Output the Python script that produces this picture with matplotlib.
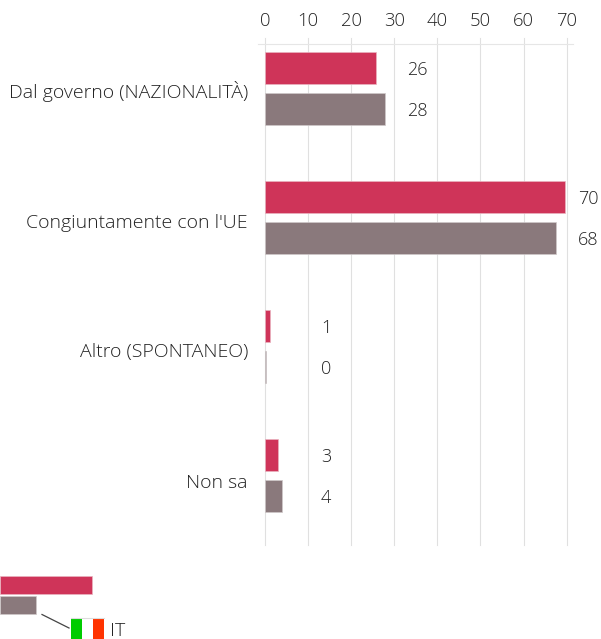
import matplotlib
matplotlib.use("Agg")
import matplotlib.pyplot as plt
from matplotlib.patches import Rectangle

categories = ["Dal governo (NAZIONALITÀ)", "Congiuntamente con l'UE", "Altro (SPONTANEO)", "Non sa"]
series_a = [25.8, 69.5, 1.1, 3.0]
series_b = [27.8, 67.5, 0.2, 4.0]
labels_a = [26, 70, 1, 3]
labels_b = [28, 68, 0, 4]
ticks = [0, 10, 20, 30, 40, 50, 60, 70]
legend_a = [92]
legend_b = [36]
legend_label = "IT"

RED, GREY = "#cf3459", "#8a797c"
W, H = 601, 639
plt.rcParams["font.family"] = ["Open Sans", "DejaVu Sans"]
TXT = "#222222"
FS = 14.0
WT = "light"

fig = plt.figure(figsize=(W / 100, H / 100), dpi=100)
ov = fig.add_axes([0, 0, 1, 1], zorder=3)
ov.set_xlim(0, W); ov.set_ylim(H, 0); ov.axis("off")

ax = fig.add_axes([265.0 / W, 1 - 545 / H, (566.7 - 265.0) / W, (545 - 44) / H])
ax.set_xlim(0, 70)
ax.set_ylim(3.539, -0.345)
ax.patch.set_alpha(0)
for s in ax.spines.values():
    s.set_visible(False)
ax.set_yticks([])
ax.xaxis.tick_top()
ax.set_xticks(ticks)
ax.set_xticklabels([str(t) for t in ticks], fontsize=13.3, color=TXT, fontweight=WT)
ax.tick_params(axis="x", length=0, pad=10)
for t in ticks:
    ax.plot([t, t], [3.539, -0.345 - 6 / 129], color="#e0e0e0", lw=0.8, clip_on=False, zorder=1)
ax.plot([-7 / 4.31, 70 + 6 / 4.31], [-0.345, -0.345], color="#e6e6e6", lw=0.8, clip_on=False, zorder=1)

off, h = 20.5 / 129, 32 / 129
ypos = list(range(len(categories)))
ax.barh([y - off for y in ypos], series_a, height=h, color=RED, edgecolor="#e9b3c0", lw=0.5, zorder=2)
ax.barh([y + off for y in ypos], series_b, height=h, color=GREY, edgecolor="#cfc8c9", lw=0.5, zorder=2)

# value labels: pixel gap from the longer bar of each group
gap_a = [32, 22, 57, 44]
gap_b = [32, 21, 57, 44]
for i, y in enumerate(ypos):
    m = max(labels_a[i], labels_b[i])
    for lab, yy, g in ((labels_a[i], y - off, gap_a[i]), (labels_b[i], y + off, gap_b[i])):
        ax.annotate(str(lab), (m, yy), xytext=(g * .72, -1.3), textcoords="offset points",
                    ha="center", va="center", fontsize=13.0, color=TXT, fontweight=WT)

for c, py in zip(categories, [98, 228, 357, 488]):
    ov.text(248, py, c, ha="right", va="baseline", fontsize=FS, color=TXT, fontweight=WT)

ov.add_patch(Rectangle((0, 576), legend_a[0], 17.5, fc=RED, ec="#e9b3c0", lw=0.5))
ov.add_patch(Rectangle((0, 596), legend_b[0], 17.5, fc=GREY, ec="#cfc8c9", lw=0.5))
ov.plot([42, 69], [614.5, 628], color="#444444", lw=0.9)
ov.add_patch(Rectangle((71, 618), 11, 22, fc="#00cc00", lw=0))
ov.add_patch(Rectangle((82, 618), 11, 22, fc="#ffffff", lw=0))
ov.add_patch(Rectangle((93, 618), 11, 22, fc="#ff3300", lw=0))
ov.plot([71, 104], [618, 618], color="#dddddd", lw=0.8)
ov.text(110, 631, legend_label, ha="left", va="center", fontsize=14, color=TXT, fontweight=WT)

fig.savefig("out.png", dpi=100)
